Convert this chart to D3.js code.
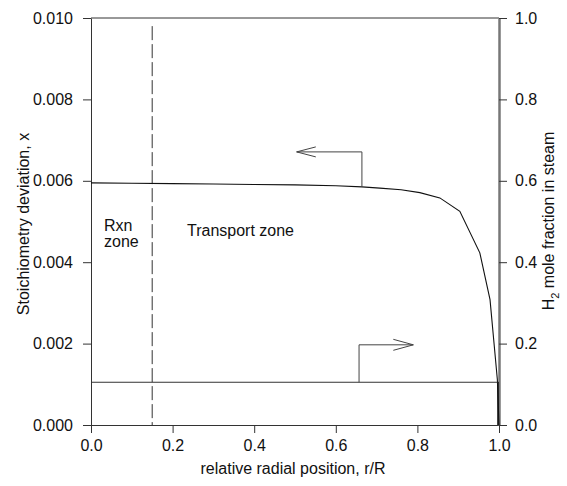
<!DOCTYPE html>
<html>
<head>
<meta charset="utf-8">
<script src="https://cdn.jsdelivr.net/npm/d3@7"></script>
<style>
  body { margin: 0; background: #fff; }
  text { font-family: "Liberation Sans", Arial, sans-serif; fill: #111; }
</style>
</head>
<body>
<svg width="567" height="486"></svg>
<script>
// radial position r/R and stoichiometry deviation x
const radialPos = [0, 0.1, 0.2, 0.3, 0.4, 0.5, 0.6, 0.664, 0.708, 0.76, 0.806, 0.855, 0.904, 0.953, 0.978, 0.996, 1.0];
const stoichDev = [0.00595, 0.00594, 0.00593, 0.00592, 0.00591, 0.0059, 0.00588, 0.00585, 0.00582, 0.00578, 0.00571, 0.00558, 0.00525, 0.00423, 0.00308, 0.00111, 0];

// H2 mole fraction in steam (right axis)
const h2Pos = [0, 1.0];
const h2Frac = [0.105, 0.105];

const xTicks = [0, 0.2, 0.4, 0.6, 0.8, 1.0];
const yLeftTicks = [0, 0.002, 0.004, 0.006, 0.008, 0.010];
const yRightTicks = [0, 0.2, 0.4, 0.6, 0.8, 1.0];

const rxnBoundary = 0.15;

const svg = d3.select('svg');
const pL = 91, pR = 499, pT = 18, pB = 425;
const fs = '16px';

const x = d3.scaleLinear().domain([0, 1]).range([pL, pR]);
const yL = d3.scaleLinear().domain([0, 0.01]).range([pB, pT]);
const yR = d3.scaleLinear().domain([0, 1]).range([pB, pT]);

// frame top line
svg.append('line')
  .attr('x1', pL).attr('x2', pR).attr('y1', pT).attr('y2', pT)
  .attr('stroke', '#333').attr('stroke-width', 1);

// axes
const fmt3 = d3.format('.3f'), fmt1 = d3.format('.1f');

const gx = svg.append('g').attr('transform', `translate(0,${pB})`)
  .call(d3.axisBottom(x).tickValues(xTicks).tickFormat(fmt1).tickSize(8).tickSizeOuter(0).tickPadding(7));
const gl = svg.append('g').attr('transform', `translate(${pL},0)`)
  .call(d3.axisLeft(yL).tickValues(yLeftTicks).tickFormat(fmt3).tickSize(8).tickSizeOuter(0).tickPadding(10));
const gr = svg.append('g').attr('transform', `translate(${pR},0)`)
  .call(d3.axisRight(yR).tickValues(yRightTicks).tickFormat(fmt1).tickSize(8).tickSizeOuter(0).tickPadding(8));

[gx, gl, gr].forEach(g => {
  g.selectAll('text').style('font-size', fs).attr('fill', '#111')
    .style('font-family', '"Liberation Sans", Arial, sans-serif');
  g.selectAll('line').attr('stroke', '#333');
  g.select('.domain').attr('stroke', '#333');
});
gr.select('.domain').attr('stroke', '#777').attr('stroke-width', 2.5);

// rxn zone boundary
svg.append('line')
  .attr('x1', x(rxnBoundary)).attr('x2', x(rxnBoundary))
  .attr('y1', yL(0.0098)).attr('y2', pB)
  .attr('stroke', '#333').attr('stroke-dasharray', '14,4');

// curves
const line = d3.line();
svg.append('path')
  .attr('d', line(radialPos.map((r, i) => [x(r), yL(stoichDev[i])])))
  .attr('fill', 'none').attr('stroke', '#111').attr('stroke-width', 1.1);
svg.append('path')
  .attr('d', line(h2Pos.map((r, i) => [x(r), yR(h2Frac[i])])))
  .attr('fill', 'none').attr('stroke', '#333').attr('stroke-width', 1);
// steep drop at the surface
svg.append('line')
  .attr('x1', x(1) - 1).attr('x2', x(1) - 1)
  .attr('y1', yR(h2Frac[1])).attr('y2', pB)
  .attr('stroke', '#111').attr('stroke-width', 1.6);

// arrows
const ann = svg.append('g').attr('fill', 'none').attr('stroke', '#444').attr('stroke-width', 1);
// left arrow -> left axis
const a1y = yL(0.00671), a1x = x(0.664);
ann.append('path').attr('d', `M${a1x},${yL(0.00585)}V${a1y}H${x(0.504)}`);
ann.append('path').attr('d', `M${x(0.551)},${a1y - 5}L${x(0.504)},${a1y}L${x(0.551)},${a1y + 5}`);
// right arrow -> right axis
const a2y = yR(0.197), a2x = x(0.657);
ann.append('path').attr('d', `M${a2x},${yR(h2Frac[0])}V${a2y}H${x(0.79)}`);
ann.append('path').attr('d', `M${x(0.741)},${a2y - 5.5}L${x(0.79)},${a2y}L${x(0.741)},${a2y + 5.5}`);

// zone labels
svg.append('text').attr('x', 104).attr('y', 231).style('font-size', fs).text('Rxn');
svg.append('text').attr('x', 104).attr('y', 247).style('font-size', fs).text('zone');
svg.append('text').attr('x', 187).attr('y', 236).style('font-size', fs).text('Transport zone');

// axis titles
svg.append('text').attr('x', (pL + pR) / 2 - 2).attr('y', 474)
  .attr('text-anchor', 'middle').style('font-size', fs)
  .text('relative radial position, r/R');
svg.append('text').attr('transform', 'translate(29,224) rotate(-90)')
  .attr('text-anchor', 'middle').style('font-size', fs)
  .text('Stoichiometry deviation, x');
const rt = svg.append('text').attr('transform', 'translate(554,221) rotate(-90)')
  .attr('text-anchor', 'middle').style('font-size', fs);
rt.append('tspan').text('H');
rt.append('tspan').attr('dy', 5).style('font-size', '11px').text('2');
rt.append('tspan').attr('dy', -5).text(' mole fraction in steam');
</script>
</body>
</html>
